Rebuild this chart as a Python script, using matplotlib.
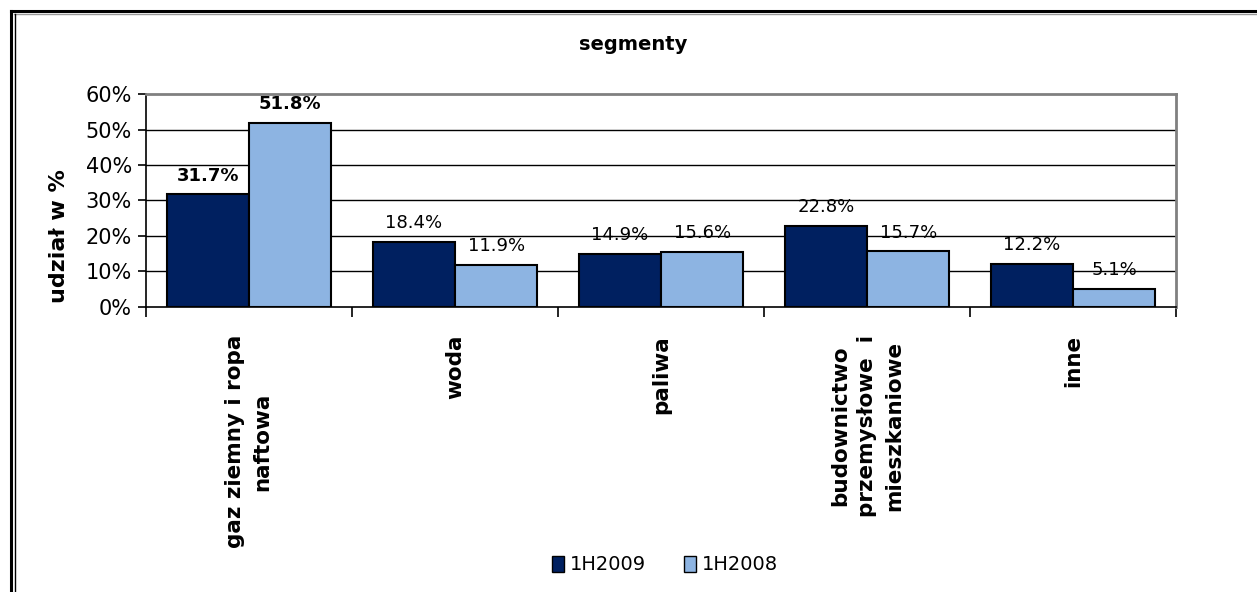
import matplotlib
matplotlib.use('Agg')
import matplotlib.pyplot as plt
from matplotlib.lines import Line2D
from matplotlib.patches import Patch
import numpy as np

# data
categories = ["gaz ziemny i ropa\nnaftowa", "woda", "paliwa",
              "budownictwo\nprzemysłowe  i\nmieszkaniowe", "inne"]
series_names = ["1H2009", "1H2008"]
values_2009 = [31.7, 18.4, 14.9, 22.8, 12.2]
values_2008 = [51.8, 11.9, 15.6, 15.7, 5.1]
yticks = [0, 10, 20, 30, 40, 50, 60]

dark = "#002060"
light = "#8DB4E2"

W, H = 1257, 592
fig = plt.figure(figsize=(W / 100, H / 100), dpi=100)
ax = fig.add_axes([146 / W, 1 - 307 / H, (1176 - 146) / W, (307 - 94) / H])

x = np.arange(len(categories))
bw = 0.4
b1 = ax.bar(x - bw / 2, values_2009, bw, color=dark, edgecolor="black", linewidth=1.5, zorder=3)
b2 = ax.bar(x + bw / 2, values_2008, bw, color=light, edgecolor="black", linewidth=1.5, zorder=3)

# value labels, first group bold like in the original
for i, (r1, r2) in enumerate(zip(b1, b2)):
    wt = "bold" if i == 0 else "normal"
    for r, v in ((r1, values_2009[i]), (r2, values_2008[i])):
        ax.annotate(f"{v:.1f}%", (r.get_x() + r.get_width() / 2, v),
                    xytext=(0, 7), textcoords="offset points",
                    ha="center", va="bottom", fontsize=13, fontweight=wt, zorder=4)

ax.set_xlim(-0.5, len(categories) - 0.5)
ax.set_ylim(0, 60)
ax.set_yticks(yticks)
ax.set_yticklabels([f"{t}%" for t in yticks], fontsize=15)
for t in yticks[1:-1]:
    ax.axhline(t, color="black", linewidth=1.0, zorder=1)

# category boundaries as major ticks, names as minor ticks
ax.set_xticks(np.arange(-0.5, len(categories), 1.0))
ax.set_xticklabels([])
ax.set_xticks(x, minor=True)
ax.set_xticklabels(categories, minor=True, rotation=90, fontsize=15.5, fontweight="bold")
for lab in ax.get_xticklabels(minor=True):
    lab.set_multialignment("center")
    lab.set_linespacing(1.45)
ax.tick_params(axis="x", which="major", direction="out", length=7, width=1.2)
ax.tick_params(axis="x", which="minor", length=0, pad=20)
ax.tick_params(axis="y", direction="out", length=6, width=1.2, pad=4)

ax.spines["left"].set_linewidth(1.2)
ax.spines["bottom"].set_linewidth(1.2)
ax.spines["top"].set_color("#808080")
ax.spines["right"].set_color("#808080")
ax.spines["top"].set_linewidth(2)
ax.spines["right"].set_linewidth(2)

ax.set_ylabel("udział w %", fontsize=16, fontweight="bold")
ax.yaxis.set_label_coords(-0.075, 0.333)
fig.text(633 / W, 1 - 45 / H, "segmenty", ha="center", va="center", fontsize=14, fontweight="bold")

handles = [Patch(facecolor=dark, edgecolor="black"), Patch(facecolor=light, edgecolor="black")]
fig.legend(handles, series_names, loc="center", bbox_to_anchor=(665 / W, 1 - 565 / H),
           ncol=2, frameon=False, fontsize=14, handlelength=0.6, handleheight=0.9,
           handletextpad=0.3, columnspacing=2.0)

# outer double frame (top and left only visible)
fig.add_artist(Line2D([11 / W, 1], [1 - 11 / H, 1 - 11 / H], color="black", linewidth=2.2))
fig.add_artist(Line2D([14 / W, 1], [1 - 14 / H, 1 - 14 / H], color="#999999", linewidth=1.0))
fig.add_artist(Line2D([11 / W, 11 / W], [0, 1 - 11 / H], color="black", linewidth=2.2))
fig.add_artist(Line2D([14.5 / W, 14.5 / W], [0, 1 - 14 / H], color="black", linewidth=1.0))

fig.savefig("out.png", dpi=100)
